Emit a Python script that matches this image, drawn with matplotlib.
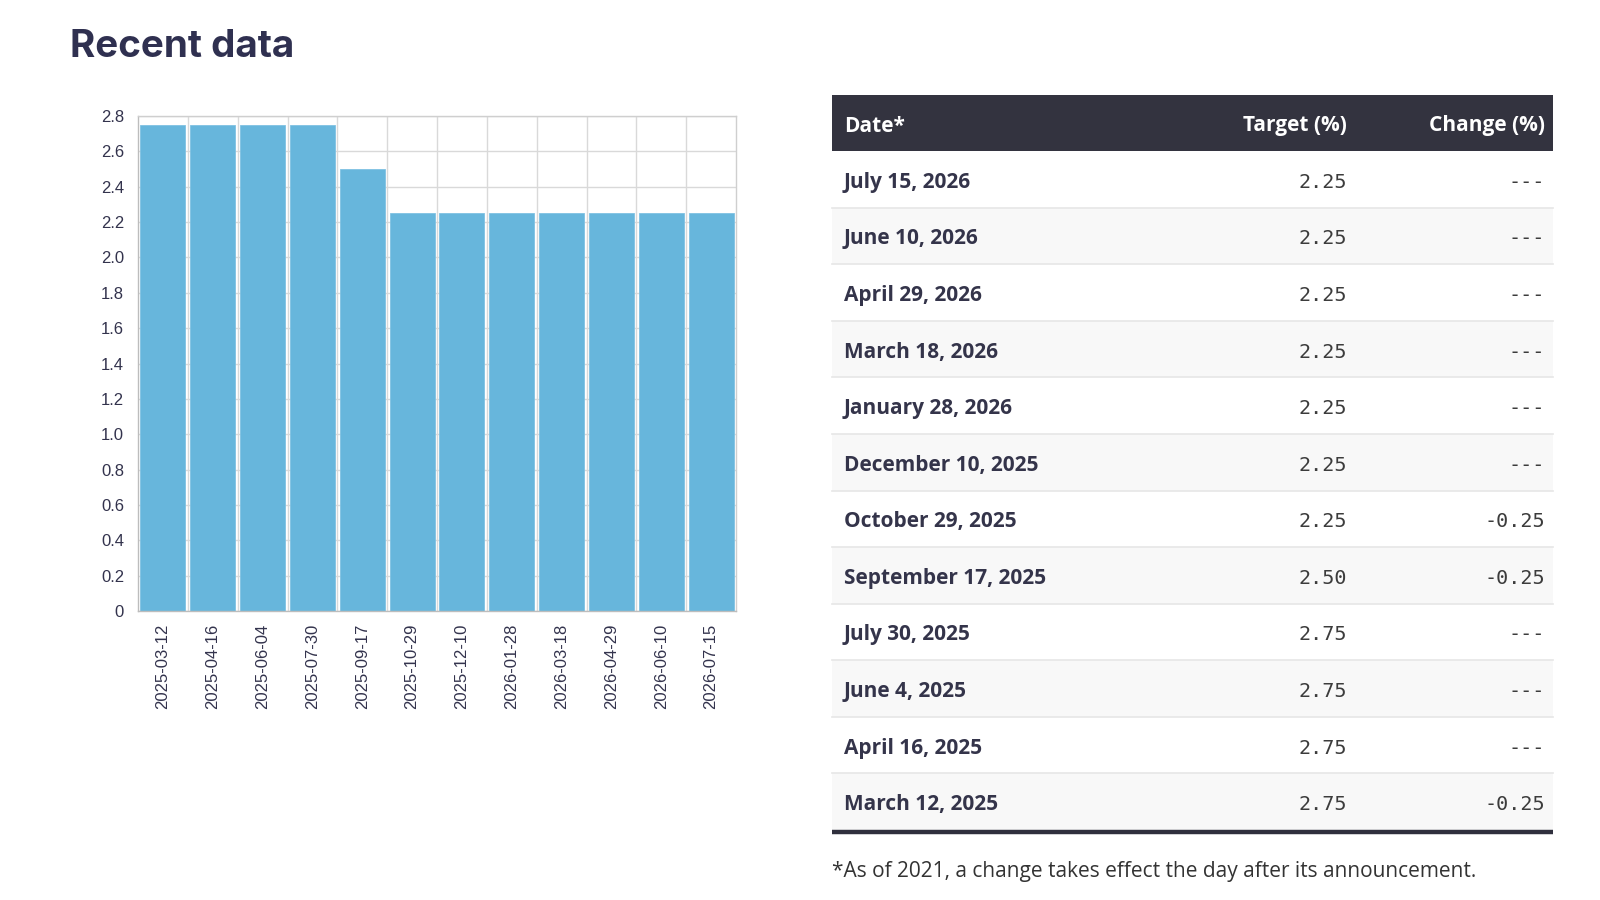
import matplotlib
matplotlib.use("Agg")
import matplotlib.pyplot as plt
from matplotlib.patches import Rectangle

# ---------------- data ----------------
bar_dates = ["2025-03-12", "2025-04-16", "2025-06-04", "2025-07-30", "2025-09-17",
             "2025-10-29", "2025-12-10", "2026-01-28", "2026-03-18", "2026-04-29",
             "2026-06-10", "2026-07-15"]
bar_values = [2.75, 2.75, 2.75, 2.75, 2.50, 2.25, 2.25, 2.25, 2.25, 2.25, 2.25, 2.25]
y_ticks = [0, 0.2, 0.4, 0.6, 0.8, 1.0, 1.2, 1.4, 1.6, 1.8, 2.0, 2.2, 2.4, 2.6, 2.8]
y_tick_labels = ["0", "0.2", "0.4", "0.6", "0.8", "1.0", "1.2", "1.4", "1.6", "1.8",
                 "2.0", "2.2", "2.4", "2.6", "2.8"]

table_header = ["Date*", "Target (%)", "Change (%)"]
table_dates = ["July 15, 2026", "June 10, 2026", "April 29, 2026", "March 18, 2026",
               "January 28, 2026", "December 10, 2025", "October 29, 2025",
               "September 17, 2025", "July 30, 2025", "June 4, 2025",
               "April 16, 2025", "March 12, 2025"]
table_targets = ["2.25", "2.25", "2.25", "2.25", "2.25", "2.25", "2.25", "2.50",
                 "2.75", "2.75", "2.75", "2.75"]
table_changes = ["---", "---", "---", "---", "---", "---", "-0.25", "-0.25",
                 "---", "---", "---", "-0.25"]

title = "Recent data"
footnote = "*As of 2021, a change takes effect the day after its announcement."

# ---------------- style ----------------
W, H = 1600, 900
fig = plt.figure(figsize=(16, 9), dpi=100)
fig.patch.set_facecolor("white")

navy = "#2f3050"
bar_color = "#67b6dc"
grid_color = "#d9d9d9"

# title
fig.text(70 / W, 1 - 57 / H, title, fontsize=27.8, fontweight="bold",
         family=["Inter", "DejaVu Sans"], color=navy, ha="left", va="baseline")

# ---------------- bar chart ----------------
ax_l, ax_r, ax_t, ax_b = 138, 736, 116, 611
ax = fig.add_axes([ax_l / W, 1 - ax_b / H, (ax_r - ax_l) / W, (ax_b - ax_t) / H])
x = list(range(len(bar_values)))
ax.bar(x, bar_values, width=0.9, color=bar_color, edgecolor="#7fc2e3", linewidth=0.6,
       zorder=2)
ax.set_xlim(-0.5, len(bar_values) - 0.5)
ax.set_ylim(0, 2.8)
ax.set_yticks(y_ticks)
ax.set_yticklabels(y_tick_labels)
ax.set_xticks(x)
ax.set_xticklabels(bar_dates, rotation=90)
for lbl in ax.get_xticklabels() + ax.get_yticklabels():
    lbl.set_family(["Liberation Sans", "DejaVu Sans"])
    lbl.set_fontsize(12)
    lbl.set_color("#33334d")
ax.tick_params(axis="both", length=0)
ax.tick_params(axis="y", pad=10)
ax.tick_params(axis="x", pad=9)
ax.set_axisbelow(True)
ax.yaxis.grid(True, color=grid_color, linewidth=1.0, zorder=0)
# vertical grid lines at category boundaries
for b in [i + 0.5 for i in x[:-1]]:
    ax.axvline(b, color=grid_color, linewidth=1.0, zorder=0)
for s in ax.spines.values():
    s.set_color("#cfcfcf")
    s.set_linewidth(1.0)
ax.spines["left"].set_color("#bdbdbd")
ax.spines["bottom"].set_color("#bdbdbd")

# ---------------- table ----------------
tx = fig.add_axes([0, 0, 1, 1])
tx.set_xlim(0, W)
tx.set_ylim(H, 0)
tx.axis("off")
tx.patch.set_alpha(0)

t_left, t_right = 832, 1553
hdr_top, hdr_bot = 95, 151
n_rows = len(table_dates)
row_h = (830 - hdr_bot) / n_rows
col_x = [844, 1347, 1545]
text_family = ["Open Sans", "DejaVu Sans"]
mono_family = ["DejaVu Sans Mono", "Liberation Mono"]
fs = 15

tx.add_patch(Rectangle((t_left, hdr_top), t_right - t_left, hdr_bot - hdr_top,
                       facecolor="#33333f", edgecolor="none"))
hy = (hdr_top + hdr_bot) / 2 + 8.5
tx.text(col_x[0], hy, table_header[0], ha="left", va="baseline", color="white",
        fontsize=fs, fontweight="bold", family=text_family)
tx.text(col_x[1], hy, table_header[1], ha="right", va="baseline", color="white",
        fontsize=fs, fontweight="bold", family=text_family)
tx.text(col_x[2], hy, table_header[2], ha="right", va="baseline", color="white",
        fontsize=fs, fontweight="bold", family=text_family)

for i, (d, t, c) in enumerate(zip(table_dates, table_targets, table_changes)):
    top = hdr_bot + i * row_h
    bg = "#f8f8f8" if i % 2 == 1 else "white"
    tx.add_patch(Rectangle((t_left, top), t_right - t_left, row_h,
                           facecolor=bg, edgecolor="none"))
    if i > 0:
        tx.plot([t_left, t_right], [top, top], color="#e6e6e6", linewidth=1.2)
    cy = top + row_h / 2 + 8.5
    tx.text(col_x[0], cy, d, ha="left", va="baseline", color="#34344a",
            fontsize=fs, fontweight="bold", family=text_family)
    tx.text(col_x[1], cy, t, ha="right", va="baseline", color="#3c3c3c",
            fontsize=14.5, family=mono_family)
    tx.text(col_x[2], cy, c, ha="right", va="baseline", color="#3c3c3c",
            fontsize=14.5, family=mono_family)

bottom = hdr_bot + n_rows * row_h
tx.plot([t_left, t_right], [bottom + 2, bottom + 2], color="#2f2f3d", linewidth=3.2,
        solid_capstyle="butt")

tx.text(t_left, 877, footnote, ha="left", va="baseline", color="#333333",
        fontsize=15, family=text_family)

fig.savefig("out.png", dpi=100, facecolor="white")
